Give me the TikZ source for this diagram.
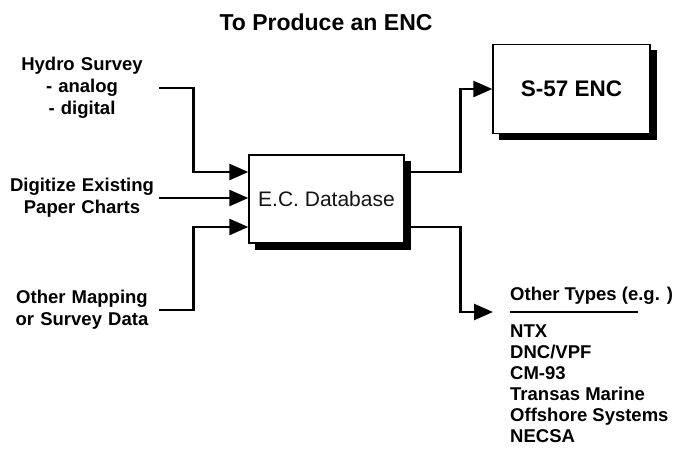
\documentclass[tikz,border=0pt]{standalone}
\usepackage{fontspec}
\setmainfont{Liberation Sans}
\usepackage{tikz}
\usetikzlibrary{arrows.meta,calc,positioning,shadows}

\begin{document}
\begin{tikzpicture}[
  x=1pt,y=-1pt,
  label/.style={font=\fontsize{18.5}{22}\selectfont\bfseries,
    text width=154pt,align=center,inner sep=0pt},
  item/.style={font=\fontsize{18.5}{22}\selectfont\bfseries,
    anchor=base west,inner sep=0pt},
  box/.style={draw,line width=1.4pt,fill=white,
    drop shadow={shadow xshift=6pt,shadow yshift=-6pt,fill=black,
      draw=black,line width=1pt,opacity=1}},
  conn/.style={-{Triangle[length=19pt,width=16pt]},line width=2.6pt}
]
\useasboundingbox (0,0) rectangle (678,451);

\node[font=\fontsize{23}{27}\selectfont\bfseries] (title) at (326,22)
  {To Produce an ENC};

% Sources on the left
\node[label] (hydro) at (82,88)
  {Hydro Survey\\- analog\hspace*{23pt}\\- digital\hspace*{25pt}};
\node[label] (paper) at (82,198) {Digitize Existing\\Paper Charts};
\node[label] (other) at (82,310) {Other Mapping\\or Survey Data};

% Central database and products
\node[box,minimum width=155pt,minimum height=88pt,
  font=\fontsize{21}{25}\selectfont,text=black!92] (db) at (326.5,199)
  {E.C. Database};
\node[box,minimum width=157pt,minimum height=89pt,
  font=\fontsize{22.5}{26}\selectfont\bfseries] (enc) at (571.5,89)
  {S-57 ENC};

\draw[conn] (hydro.east) -- ++(34,0) |- ($(db.west)+(0,-27)$);
\draw[conn] (paper.east) -- (paper.east -| db.west);
\draw[conn] (other.east) -- ++(34,0) |- ($(db.west)+(0,28)$);

\draw[conn] ($(db.east)+(0,-27)$) -- ++(56,0) |- (enc.west);

% Other output formats
\coordinate (typesin) at (493,312);
\draw[conn] ($(db.east)+(0,28)$) -- ++(56,0) |- (typesin);
\node[item] (typeshead) at (510,300) {Other Types (e.g. )};
\draw[line width=2pt] ($(typesin)+(17,0)$) -- ++(128,0);
\foreach \t [count=\i] in {NTX,DNC/VPF,CM-93,Transas Marine,
    Offshore Systems,NECSA}
  \node[item] (type\i) at (510,316.6+21*\i) {\t};
\end{tikzpicture}
\end{document}
